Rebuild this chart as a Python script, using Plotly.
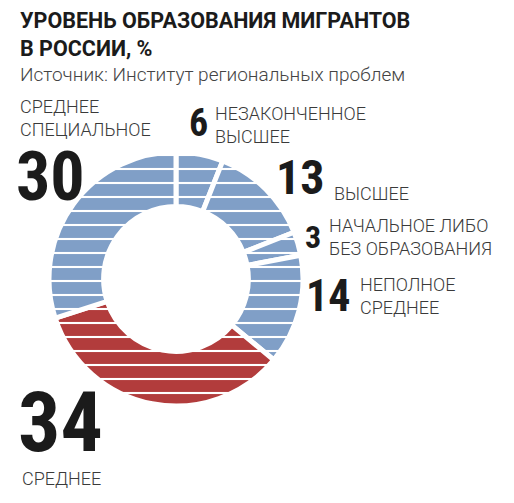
import plotly.graph_objects as go

# ==============================================================================
# DATA
# ==============================================================================
labels = ["НЕЗАКОНЧЕННОЕ<br>ВЫСШЕЕ", "ВЫСШЕЕ", "НАЧАЛЬНОЕ ЛИБО<br>БЕЗ ОБРАЗОВАНИЯ",
          "НЕПОЛНОЕ<br>СРЕДНЕЕ", "СРЕДНЕЕ", "СРЕДНЕЕ<br>СПЕЦИАЛЬНОЕ"]
values = [6, 13, 3, 14, 34, 30]

title = "<b>УРОВЕНЬ ОБРАЗОВАНИЯ МИГРАНТОВ<br>В РОССИИ, %</b>"
source = "Источник: Институт региональных проблем"

# ==============================================================================
# STYLE / LAYOUT
# ==============================================================================
# page body has an 8px margin, so the figure is a bit smaller than the window
OFF = 8
W, H = 514 - 2 * OFF, 503 - 2 * OFF
BLUE = "#809fc7"
RED = "#b23c3c"
colors = [BLUE, BLUE, BLUE, BLUE, RED, BLUE]

# callouts in window pixels: (number x, number y-centre, number size, label x, label y-centre)
callouts = [
    (187, 123, 38, 213, 125),
    (274, 178, 48, 332, 193),
    (303, 237, 32, 327, 237),
    (304, 296, 44, 358, 296),
    (16, 422, 84, 20, 478),
    (14, 177, 68, 18, 118),
]

NUM_FONT = ("Noto Sans ExtraCondensed, Noto Sans Condensed, Roboto Condensed, "
            "Liberation Sans Narrow, Roboto, sans-serif")
TXT_FONT = "Roboto, Noto Sans, sans-serif"


def px(x):
    return (x - OFF) / W


def py(y):
    return 1 - (y - OFF) / H


fig = go.Figure()

# outer circle: centre (176, 279), radius 127 px
fig.add_trace(go.Pie(
    labels=labels, values=values, sort=False, direction="clockwise", rotation=0,
    hole=0.57, textinfo="none", hoverinfo="skip", showlegend=False,
    marker=dict(
        colors=colors, line=dict(color="white", width=5),
        pattern=dict(shape="-", fgcolor="white", bgcolor=colors,
                     fillmode="replace", size=14, solidity=0.15),
    ),
    domain=dict(x=[px(49), px(303)], y=[py(406), py(152)]),
))

for (nx, ny, ns, lx, ly), v, lab in zip(callouts, values, labels):
    fig.add_annotation(
        x=px(nx), y=py(ny), xref="paper", yref="paper", xanchor="left", yanchor="middle",
        text=f"<b>{v}</b>", showarrow=False, align="left",
        font=dict(family=NUM_FONT, size=ns, color="#1b1b1b"),
    )
    fig.add_annotation(
        x=px(lx), y=py(ly), xref="paper", yref="paper", xanchor="left", yanchor="middle",
        text=lab, showarrow=False, align="left",
        font=dict(family=TXT_FONT, size=18, color="#3a3a3a", weight=300),
    )

fig.add_annotation(
    x=px(18), y=py(35), xref="paper", yref="paper", xanchor="left", yanchor="middle",
    text=title, showarrow=False, align="left",
    font=dict(family=TXT_FONT, size=21.5, color="#1b1b1b"),
)
fig.add_annotation(
    x=px(18), y=py(74), xref="paper", yref="paper", xanchor="left", yanchor="middle",
    text=source, showarrow=False, align="left",
    font=dict(family=TXT_FONT, size=19, color="#444444", weight=300),
)

fig.update_layout(
    width=W, height=H, margin=dict(l=0, r=0, t=0, b=0),
    paper_bgcolor="white", plot_bgcolor="white",
)

fig.write_html("out.html")
